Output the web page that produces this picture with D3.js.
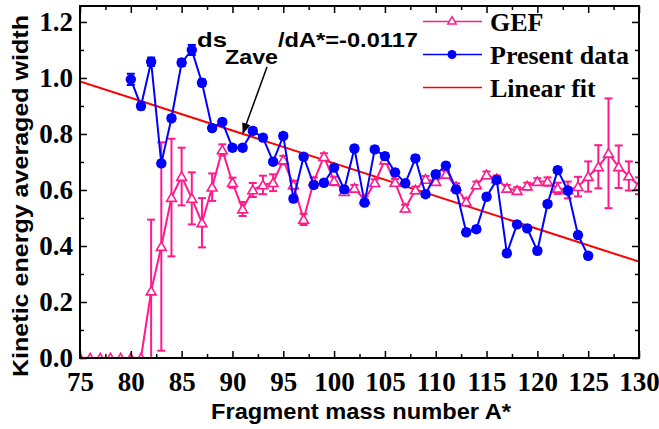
<!DOCTYPE html>
<html>
<head>
<meta charset="utf-8">
<script src="https://cdn.jsdelivr.net/npm/d3@7"></script>
<style>
  body { margin: 0; background: #fff; }
  svg { display: block; }
</style>
</head>
<body>
<div id="chart"></div>
<script>
// GEF values (pink triangles) with errors
const gefMass = [75,76,77,78,79,80,81,82,83,84,85,86,87,88,89,90,91,92,93,94,95,96,97,98,99,100,
  101,102,103,104,105,106,107,108,109,110,111,112,113,114,115,116,117,118,119,120,121,122,123,124,125,126,127,128,129,130];
const gefWidth = [0,0,0,0,0,0,0,0.239,0.398,0.573,0.648,0.570,0.483,0.610,0.743,0.626,0.532,0.600,0.618,0.626,0.707,0.618,0.495,0.630,0.719,0.632,
  0.594,0.606,0.565,0.626,0.707,0.627,0.535,0.600,0.638,0.630,0.656,0.612,0.558,0.618,0.654,0.640,0.606,0.598,0.614,0.630,0.630,0.606,0.600,0.612,0.648,0.683,0.731,0.683,0.650,0.615];
const gefErr = [0,0,0,0,0,0,0,0.255,0.372,0.210,0.103,0.093,0.088,0.049,0.020,0.018,0.025,0.025,0.033,0.030,0.015,0.015,0.020,0.015,0.012,0.015,
  0.012,0.012,0.012,0.012,0.012,0.012,0.012,0.012,0.012,0.012,0.012,0.012,0.012,0.012,0.012,0.012,0.012,0.012,0.012,0.012,0.015,0.020,0.030,0.035,0.054,0.077,0.196,0.076,0.052,0.030];

// present data (blue circles)
const presMass = [80,81,82,83,84,85,86,87,88,89,90,91,92,93,94,95,96,97,98,99,100,
  101,102,103,104,105,106,107,108,109,110,111,112,113,114,115,116,117,118,119,120,121,122,123,124,125];
const presWidth = [0.995,0.900,1.058,0.695,0.856,1.055,1.100,0.983,0.821,0.843,0.751,0.751,0.811,0.787,0.701,0.793,0.569,0.719,0.618,0.626,0.680,
  0.602,0.748,0.555,0.745,0.721,0.663,0.624,0.713,0.585,0.656,0.687,0.602,0.449,0.460,0.576,0.636,0.374,0.477,0.463,0.383,0.550,0.671,0.598,0.439,0.365];
const presErr = [0.020,0.012,0.015,0.010,0.010,0.012,0.018,0.012,0.010,0.010,0.010,0.010,0.010,0.010,0.010,0.010,0.010,0.010,0.010,0.010,0.010,
  0.010,0.010,0.010,0.010,0.010,0.010,0.010,0.010,0.010,0.010,0.010,0.010,0.010,0.010,0.010,0.010,0.010,0.010,0.010,0.010,0.010,0.010,0.010,0.010,0.010];

// linear fit, end points
const fitMass = [75, 130];
const fitWidth = [0.988, 0.344];

const xMajor = [75,80,85,90,95,100,105,110,115,120,125,130];
const xMinor = [77.5,82.5,87.5,92.5,97.5,102.5,107.5,112.5,117.5,122.5,127.5];
const yMajor = [0.0,0.2,0.4,0.6,0.8,1.0,1.2];
const yMinor = [0.1,0.3,0.5,0.7,0.9,1.1];

const W = 659, H = 429;
const margin = {top: 6, right: 20, bottom: 71, left: 80};
const pink = "#ff1a8c", blue = "#0000ff", red = "#ff0000";

const svg = d3.select("#chart").append("svg")
    .attr("width", W)
    .attr("height", H);
svg.append("rect").attr("width", W).attr("height", H).attr("fill", "#fff");

const x = d3.scaleLinear().domain([75, 130]).range([margin.left, W - margin.right]);
const y = d3.scaleLinear().domain([0, 1.257]).range([H - margin.bottom, margin.top]);

svg.append("clipPath").attr("id", "plotclip")
  .append("rect")
    .attr("x", x(75)).attr("y", y(1.257))
    .attr("width", x(130) - x(75)).attr("height", y(0) - y(1.257));

const plot = svg.append("g").attr("clip-path", "url(#plotclip)");

// linear fit
plot.append("line")
    .attr("x1", x(fitMass[0])).attr("y1", y(fitWidth[0]))
    .attr("x2", x(fitMass[1])).attr("y2", y(fitWidth[1]))
    .style("stroke", red).style("stroke-width", 2);

let gef = gefMass.map((m, i) => ({m: m, v: gefWidth[i], e: gefErr[i]}));
let pres = presMass.map((m, i) => ({m: m, v: presWidth[i], e: presErr[i]}));

function errorBars(g, data, color) {
    let eb = g.append("g").selectAll("g").data(data.filter(d => d.e > 0)).enter().append("g")
        .style("stroke", color).style("stroke-width", 2);
    eb.append("line")
        .attr("x1", d => x(d.m)).attr("x2", d => x(d.m))
        .attr("y1", d => y(d.v - d.e)).attr("y2", d => y(d.v + d.e));
    eb.append("line")
        .attr("x1", d => x(d.m) - 4).attr("x2", d => x(d.m) + 4)
        .attr("y1", d => y(d.v + d.e)).attr("y2", d => y(d.v + d.e));
    eb.append("line")
        .attr("x1", d => x(d.m) - 4).attr("x2", d => x(d.m) + 4)
        .attr("y1", d => y(d.v - d.e)).attr("y2", d => y(d.v - d.e));
}

// GEF
errorBars(plot, gef, pink);
plot.append("path").datum(gef)
    .attr("d", d3.line().x(d => x(d.m)).y(d => y(d.v)))
    .style("fill", "none").style("stroke", pink).style("stroke-width", 2);
const tri = d3.symbol().type(d3.symbolTriangle).size(42);
plot.append("g").selectAll("path").data(gef).enter().append("path")
    .attr("d", tri)
    .attr("transform", d => "translate(" + x(d.m) + "," + (y(d.v) + 1) + ")")
    .style("fill", "#fff").style("stroke", pink).style("stroke-width", 1.6);

// present data
errorBars(plot, pres, blue);
plot.append("path").datum(pres)
    .attr("d", d3.line().x(d => x(d.m)).y(d => y(d.v)))
    .style("fill", "none").style("stroke", blue).style("stroke-width", 2);
plot.append("g").selectAll("circle").data(pres).enter().append("circle")
    .attr("cx", d => x(d.m)).attr("cy", d => y(d.v)).attr("r", 5.2)
    .style("fill", blue);

// axes
const tickFont = "Liberation Serif, Times New Roman, serif";
function styleAxis(g) {
    g.attr("font-family", tickFont).attr("font-size", 27).attr("font-weight", "bold");
    g.select(".domain").remove();
    g.selectAll("line").style("stroke", "#000").style("stroke-width", 1.5);
    g.selectAll("text").attr("fill", "#000");
}

svg.append("g").attr("transform", "translate(0," + y(0) + ")")
    .call(d3.axisBottom(x).tickValues(xMajor).tickSize(-7).tickPadding(14).tickFormat(d3.format("d")))
    .call(styleAxis);
svg.append("g").attr("transform", "translate(0," + y(0) + ")")
    .call(d3.axisBottom(x).tickValues(xMinor).tickSize(-4).tickFormat(""))
    .call(styleAxis);
svg.append("g").attr("transform", "translate(0," + y(1.257) + ")")
    .call(d3.axisTop(x).tickValues(xMajor).tickSize(-7).tickFormat(""))
    .call(styleAxis);
svg.append("g").attr("transform", "translate(0," + y(1.257) + ")")
    .call(d3.axisTop(x).tickValues(xMinor).tickSize(-4).tickFormat(""))
    .call(styleAxis);

svg.append("g").attr("transform", "translate(" + x(75) + ",0)")
    .call(d3.axisLeft(y).tickValues(yMajor).tickSize(-7).tickPadding(7).tickFormat(d3.format(".1f")))
    .call(styleAxis);
svg.append("g").attr("transform", "translate(" + x(75) + ",0)")
    .call(d3.axisLeft(y).tickValues(yMinor).tickSize(-4).tickFormat(""))
    .call(styleAxis);
svg.append("g").attr("transform", "translate(" + x(130) + ",0)")
    .call(d3.axisRight(y).tickValues(yMajor).tickSize(-7).tickFormat(""))
    .call(styleAxis);
svg.append("g").attr("transform", "translate(" + x(130) + ",0)")
    .call(d3.axisRight(y).tickValues(yMinor).tickSize(-4).tickFormat(""))
    .call(styleAxis);

// frame
svg.append("rect")
    .attr("x", x(75)).attr("y", y(1.257))
    .attr("width", x(130) - x(75)).attr("height", y(0) - y(1.257))
    .style("fill", "none").style("stroke", "#000").style("stroke-width", 2);

// axis titles
const sans = "Liberation Sans, Arial, sans-serif";
svg.append("text")
    .attr("x", 211).attr("y", 419)
    .attr("font-family", sans).attr("font-weight", "bold").attr("font-size", 22)
    .attr("textLength", 300).attr("lengthAdjust", "spacingAndGlyphs")
    .text("Fragment mass number A*");
svg.append("text")
    .attr("transform", "translate(28,377) rotate(-90)")
    .attr("font-family", sans).attr("font-weight", "bold").attr("font-size", 22)
    .attr("textLength", 362).attr("lengthAdjust", "spacingAndGlyphs")
    .text("Kinetic energy averaged width");

// slope annotation
function annText(tx, ty, len, s) {
    svg.append("text").attr("x", tx).attr("y", ty)
        .attr("font-family", sans).attr("font-weight", "bold").attr("font-size", 21)
        .attr("textLength", len).attr("lengthAdjust", "spacingAndGlyphs")
        .text(s);
}
annText(197, 47, 30, "ds");
annText(225, 64, 53, "Zave");
annText(278, 47, 140, "/dA*=-0.0117");

svg.append("defs").append("marker")
    .attr("id", "arrowhead")
    .attr("viewBox", "0 0 10 10").attr("refX", 9).attr("refY", 5)
    .attr("markerWidth", 11).attr("markerHeight", 11)
    .attr("markerUnits", "userSpaceOnUse")
    .attr("orient", "auto")
  .append("path").attr("d", "M0,1 L10,5 L0,9 z").style("fill", "#000");
svg.append("line")
    .attr("x1", 267).attr("y1", 67).attr("x2", 243).attr("y2", 133)
    .style("stroke", "#000").style("stroke-width", 1.5)
    .attr("marker-end", "url(#arrowhead)");

// legend
const legendItems = [
    {label: "GEF", color: pink, mark: "tri"},
    {label: "Present data", color: blue, mark: "dot"},
    {label: "Linear fit", color: red, mark: "none"}
];
let legend = svg.append("g");
legendItems.forEach((it, i) => {
    let ly = 21.5 + i * 33;
    legend.append("line")
        .attr("x1", 423).attr("x2", 482).attr("y1", ly).attr("y2", ly)
        .style("stroke", it.color).style("stroke-width", 1.6);
    if (it.mark === "tri") {
        legend.append("path").attr("d", d3.symbol().type(d3.symbolTriangle).size(30))
            .attr("transform", "translate(452," + ly + ")")
            .style("fill", "#fff").style("stroke", it.color).style("stroke-width", 1.5);
    } else if (it.mark === "dot") {
        legend.append("circle").attr("cx", 452).attr("cy", ly).attr("r", 4.5).style("fill", it.color);
    }
    legend.append("text")
        .attr("x", 490).attr("y", ly + 9)
        .attr("font-family", tickFont).attr("font-weight", "bold").attr("font-size", 26)
        .text(it.label);
});
</script>
</body>
</html>
